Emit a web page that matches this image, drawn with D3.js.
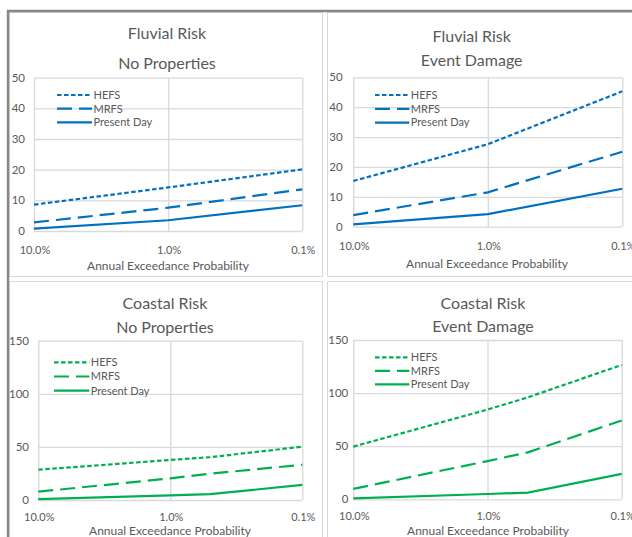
<!DOCTYPE html>
<html>
<head>
<meta charset="utf-8">
<script src="https://cdn.jsdelivr.net/npm/d3@7"></script>
<style>
  body { margin: 0; background: #fff; }
  svg { display: block; font-family: Lato, "Liberation Sans", sans-serif; }
</style>
</head>
<body>
<svg id="chart" width="632" height="537"></svg>
<script>
// annual exceedance probabilities
const fluvialAep = [0.1, 0.01, 0.001];
const coastalAep = [0.1, 0.01, 0.005, 0.001];
const xTickValues = [0.1, 0.01, 0.001];
const xTickLabels = ["10.0%", "1.0%", "0.1%"];
const fluvialYTicks = [0, 10, 20, 30, 40, 50];
const coastalYTicks = [0, 50, 100, 150];
const seriesNames = ["HEFS", "MRFS", "Present Day"];

// fluvial - no properties
const fluvialPropsHefs = [8.6, 14.2, 20.1];
const fluvialPropsMrfs = [2.8, 7.6, 13.6];
const fluvialPropsPresent = [0.8, 3.5, 8.4];
// fluvial - event damage
const fluvialDamageHefs = [15.3, 27.6, 45.3];
const fluvialDamageMrfs = [3.9, 11.5, 25.1];
const fluvialDamagePresent = [0.8, 4.2, 12.7];
// coastal - no properties
const coastalPropsHefs = [28.5, 37.7, 40.3, 50.2];
const coastalPropsMrfs = [7.8, 20.4, 24.8, 33.2];
const coastalPropsPresent = [0.8, 4.4, 5.5, 14.2];
// coastal - event damage
const coastalDamageHefs = [49.6, 84.5, 96, 126.5];
const coastalDamageMrfs = [9.8, 36, 44.2, 74.2];
const coastalDamagePresent = [0.8, 5, 6.3, 24];

const blue = "#0070C0", green = "#00B050";
const dashes = ["4.5,2.5", "15,7", null];
const textColor = "#595959", gridColor = "#d9d9d9";

const panels = [
  {title: ["Fluvial Risk", "No Properties"], aep: fluvialAep, yTicks: fluvialYTicks, yMax: 50, color: blue,
   series: [fluvialPropsHefs, fluvialPropsMrfs, fluvialPropsPresent],
   box: [9, 12, 313, 264], plot: [34, 77.7, 302.3, 231], titleX: 167, titleY: [33, 63],
   tickY: 250, axisTitle: [168, 266], yLabelX: 25, legend: [57, 92, 95, 13.7]},
  {title: ["Fluvial Risk", "Event Damage"], aep: fluvialAep, yTicks: fluvialYTicks, yMax: 50, color: blue,
   series: [fluvialDamageHefs, fluvialDamageMrfs, fluvialDamagePresent],
   box: [327, 12, 320, 264], plot: [353.3, 77.3, 622.3, 226.7], titleX: 471.7, titleY: [36, 60.7],
   tickY: 245.7, axisTitle: [487, 264], yLabelX: 342.7, legend: [375, 409.3, 95, 13.8]},
  {title: ["Coastal Risk", "No Properties"], aep: coastalAep, yTicks: coastalYTicks, yMax: 150, color: green,
   series: [coastalPropsHefs, coastalPropsMrfs, coastalPropsPresent],
   box: [9, 281, 313, 270], plot: [38.3, 340.7, 302.3, 500], titleX: 165, titleY: [303.3, 327.3],
   tickY: 516.7, axisTitle: [170, 530.5], yLabelX: 29, legend: [54, 89.3, 362.3, 14.2]},
  {title: ["Coastal Risk", "Event Damage"], aep: coastalAep, yTicks: coastalYTicks, yMax: 150, color: green,
   series: [coastalDamageHefs, coastalDamageMrfs, coastalDamagePresent],
   box: [327, 281, 320, 270], plot: [353.3, 340, 621.7, 499.3], titleX: 483, titleY: [303.3, 326.7],
   tickY: 516, axisTitle: [488, 530.5], yLabelX: 348.3, legend: [375, 409.3, 357.3, 13.5]}
];

const svg = d3.select("#chart");
svg.append("rect").attr("width", 632).attr("height", 537).attr("fill", "#fff");

panels.forEach(function (p) {
  const g = svg.append("g");
  const [bx, by, bw, bh] = p.box;
  g.append("rect").attr("x", bx + 0.5).attr("y", by + 0.5).attr("width", bw).attr("height", bh)
    .attr("fill", "#fff").attr("stroke", gridColor).attr("stroke-width", 1);

  const [x0, y0, x1, y1] = p.plot;
  const x = d3.scaleLog().domain([0.1, 0.001]).range([x0, x1]);
  const y = d3.scaleLinear().domain([0, p.yMax]).range([y1, y0]);

  // gridlines
  g.append("g")
    .attr("transform", "translate(" + x0 + ",0)")
    .call(d3.axisLeft(y).tickValues(p.yTicks).tickSize(-(x1 - x0)).tickFormat(""))
    .call(s => s.select(".domain").remove())
    .call(s => s.selectAll("line").attr("stroke", gridColor).attr("stroke-width", 1.3));
  g.append("g")
    .attr("transform", "translate(0," + y0 + ")")
    .call(d3.axisBottom(x).tickValues(xTickValues).tickSize(y1 - y0).tickFormat(""))
    .call(s => s.select(".domain").remove())
    .call(s => s.selectAll("line").attr("stroke", gridColor).attr("stroke-width", 1.3));

  // tick labels
  g.selectAll(".ylab").data(p.yTicks).enter().append("text")
    .attr("x", p.yLabelX).attr("y", d => y(d)).attr("dy", "0.35em")
    .attr("text-anchor", "end").attr("font-size", 11.5).attr("fill", textColor)
    .text(d => d);
  g.selectAll(".xlab").data(xTickValues).enter().append("text")
    .attr("x", d => x(d) + 1).attr("y", p.tickY).attr("dy", "0.35em")
    .attr("text-anchor", "middle").attr("font-size", 11).attr("fill", textColor)
    .text((d, i) => xTickLabels[i]);
  g.append("text").attr("x", p.axisTitle[0]).attr("y", p.axisTitle[1]).attr("dy", "0.35em")
    .attr("text-anchor", "middle").attr("font-size", 12).attr("fill", textColor)
    .text("Annual Exceedance Probability");

  // titles
  p.title.forEach(function (t, i) {
    g.append("text").attr("x", p.titleX).attr("y", p.titleY[i]).attr("dy", "0.35em")
      .attr("text-anchor", "middle").attr("font-size", 16).attr("fill", textColor).text(t);
  });

  // series
  const line = d3.line().x(d => x(d[0])).y(d => y(d[1]));
  p.series.forEach(function (vals, i) {
    g.append("path")
      .attr("d", line(vals.map((v, j) => [p.aep[j], v])))
      .attr("fill", "none").attr("stroke", p.color).attr("stroke-width", 2.2)
      .attr("stroke-dasharray", dashes[i]);
  });

  // legend
  const [lx0, lx1, ly, lstep] = p.legend;
  seriesNames.forEach(function (name, i) {
    const yy = ly + i * lstep;
    g.append("line").attr("x1", lx0).attr("x2", lx1).attr("y1", yy).attr("y2", yy)
      .attr("stroke", p.color).attr("stroke-width", 2.2).attr("stroke-dasharray", dashes[i]);
    g.append("text").attr("x", lx1 + 1.5).attr("y", yy).attr("dy", "0.35em")
      .attr("font-size", 11).attr("fill", textColor).text(name);
  });
});

// outer frame
svg.append("line").attr("x1", 7).attr("x2", 632).attr("y1", 11).attr("y2", 11)
  .attr("stroke", "#888").attr("stroke-width", 2.5);
svg.append("line").attr("x1", 8).attr("x2", 8).attr("y1", 10).attr("y2", 537)
  .attr("stroke", "#888").attr("stroke-width", 2.5);
</script>
</body>
</html>
